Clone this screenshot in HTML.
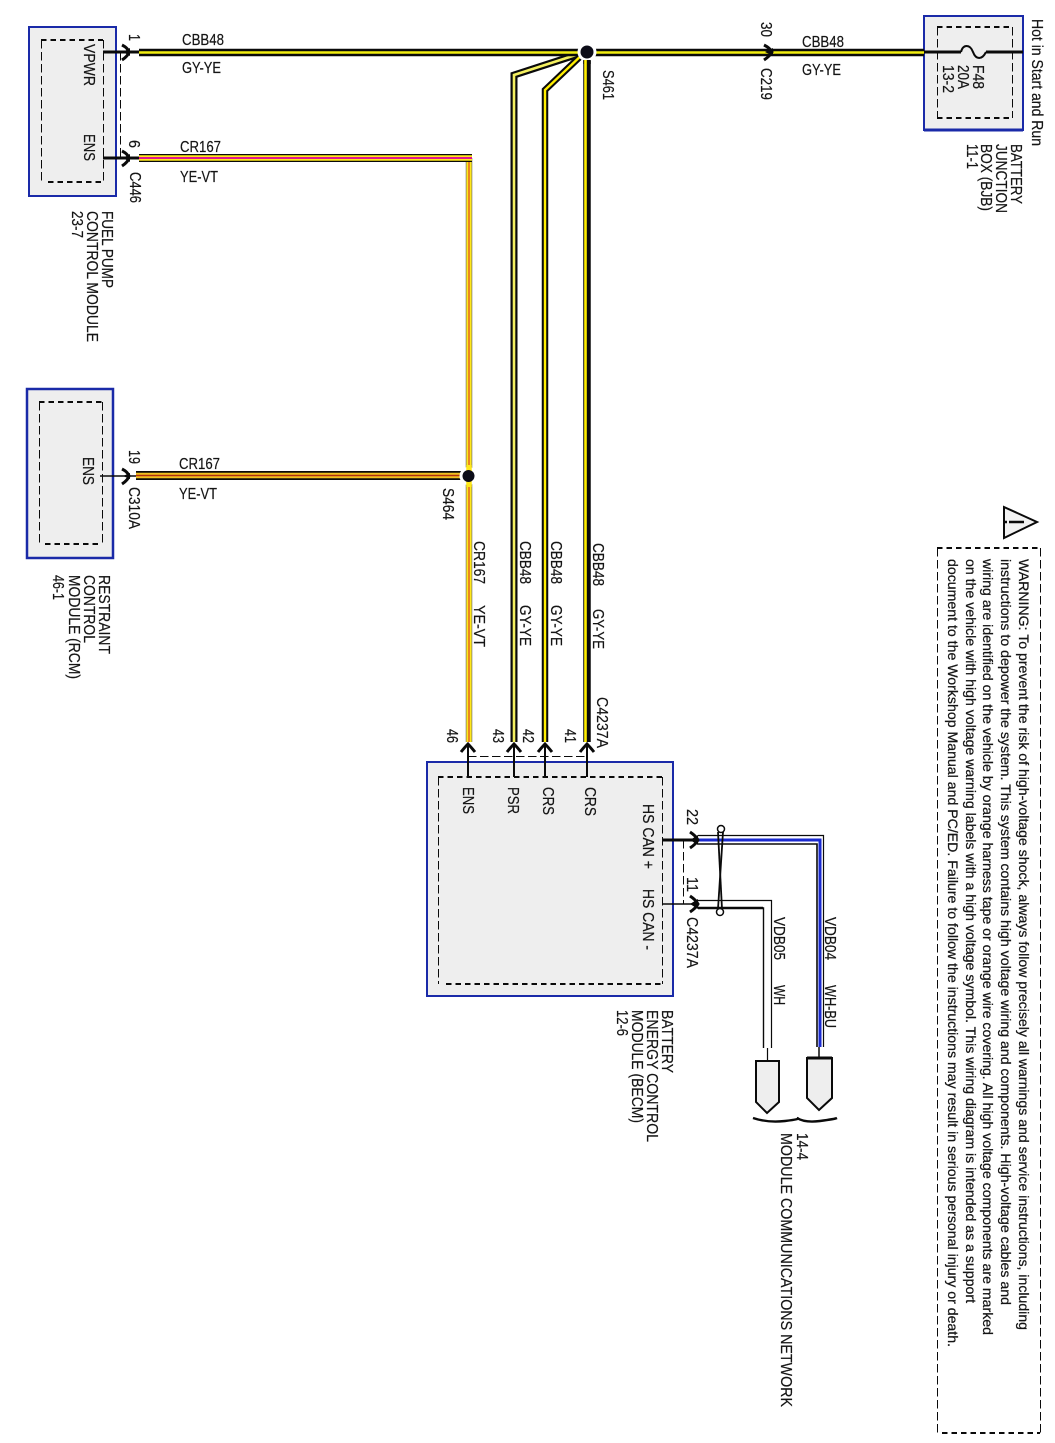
<!DOCTYPE html>
<html><head><meta charset="utf-8"><style>
html,body{margin:0;padding:0;background:#fff}
svg{display:block}
text{font-family:"Liberation Sans",sans-serif;font-size:15.5px;fill:#151515;stroke:#151515;stroke-width:.2}
.w{font-size:14px;stroke-width:.25}
.box{fill:#eeeeee;stroke:#1a2aa8;stroke-width:2}
.dt{stroke:#0a0a0a;stroke-width:2;stroke-dasharray:5.5 4;fill:none}
.ds{stroke:#0a0a0a;stroke-width:1;stroke-dasharray:8.5 3.5;fill:none}
.ch{fill:none;stroke:#0a0a0a;stroke-width:3}
.ar{fill:#0a0a0a}
polyline,line{fill:none}
</style></head><body>
<svg width="1055" height="1443" viewBox="0 0 1055 1443" xmlns="http://www.w3.org/2000/svg">
<rect width="1055" height="1443" fill="#fff"/>
<!-- boxes -->
<rect class="box" x="29" y="27" width="87" height="169"/>
<path class="dt" d="M41 40H103M48 182H103"/><path class="ds" d="M41.5 40V182M103.5 40V182"/>
<rect class="box" x="27" y="389" width="86" height="169" style="stroke-width:2.5"/>
<path class="dt" d="M39 402H102M45 544H102"/><path class="ds" d="M39.5 402V544M102.5 402V544"/>
<rect class="box" x="924" y="16" width="99" height="114"/>
<line x1="924" y1="130" x2="1023" y2="130" stroke="#1a2aa8" stroke-width="3"/>
<path class="dt" d="M937 27H1012M937 118H1012"/><path class="ds" d="M937.5 27V118M1012.5 27V118"/>
<rect class="box" x="427" y="762" width="246" height="234"/>
<path class="dt" d="M438 777H662M446 984H662"/><path class="ds" d="M438.5 777V984M662.5 777V984"/>
<!-- dashed connector shells -->
<path class="ds" d="M120.5 52V158M468 756.5H587M683.5 840V904"/>
<!-- pins -->
<g stroke="#0a0a0a" fill="none">
<path d="M103 52H139M103 158H139M924 52H961M986 52H1023M662 840H698" stroke-width="3"/>
<path d="M961 52C963 44 970 44 973 52C976 60 982 60 986 52" stroke-width="2"/>
<path d="M100 476H136M662 904H698" stroke-width="1.5"/>
<path d="M468 745V777M514 745V777M545 745V777M587 745V777" stroke-width="2"/>
</g>
<!-- main CBB48 -->
<polyline points="585,52 514,75 514,742" stroke="#0a0a0a" stroke-width="7"/>
<polyline points="585,52 514,75 514,742" stroke="#f4f060" stroke-width="2.6"/>
<polyline points="585,52 545,90 545,742" stroke="#0a0a0a" stroke-width="6.5"/>
<polyline points="585,52 545,90 545,742" stroke="#ffee00" stroke-width="2.4"/>
<line x1="587" y1="52" x2="587" y2="742" stroke="#0a0a0a" stroke-width="7.5"/>
<line x1="585.5" y1="52" x2="585.5" y2="742" stroke="#ffee00" stroke-width="2.6"/>
<line x1="139" y1="52.5" x2="924" y2="52.5" stroke="#0a0a0a" stroke-width="7.5"/>
<line x1="139" y1="52.5" x2="924" y2="52.5" stroke="#f2ee10" stroke-width="2.5"/>
<circle cx="587" cy="52" r="9.5" fill="#fff"/>
<line x1="587" y1="60" x2="587" y2="64" stroke="#0a0a0a" stroke-width="7.5"/>
<line x1="585.5" y1="60" x2="585.5" y2="64" stroke="#ffee00" stroke-width="2.6"/>
<circle cx="587" cy="52" r="6.5" fill="#0c0c18"/>
<!-- CR167 -->
<line x1="469" y1="158" x2="469" y2="742" stroke="#666" stroke-width="6.5"/>
<line x1="469" y1="158" x2="469" y2="742" stroke="#ffe81a" stroke-width="5.2"/>
<line x1="469" y1="158" x2="469" y2="742" stroke="#e87a20" stroke-width="1.8"/>
<line x1="139" y1="158" x2="472" y2="158" stroke="#0a0a0a" stroke-width="8"/>
<line x1="139" y1="158" x2="472" y2="158" stroke="#ffe81a" stroke-width="5.6"/>
<line x1="139" y1="158" x2="472" y2="158" stroke="#e0148c" stroke-width="2"/>
<line x1="136" y1="475.5" x2="462" y2="475.5" stroke="#0a0a0a" stroke-width="9"/>
<line x1="136" y1="475.5" x2="462" y2="475.5" stroke="#f0c020" stroke-width="5.6"/>
<line x1="136" y1="475.5" x2="462" y2="475.5" stroke="#b03010" stroke-width="1.6"/>
<circle cx="468.5" cy="476" r="9" fill="#fff"/>
<line x1="469" y1="465" x2="469" y2="487" stroke="#ffe81a" stroke-width="5.5"/>
<circle cx="468.5" cy="476" r="6" fill="#0c0c18"/>
<!-- VDB wires -->
<polyline points="698,835.5 823.5,835.5 823.5,1047" stroke="#0a0a0a" stroke-width="1.2"/>
<polyline points="698,844 817,844 817,1047" stroke="#0a0a0a" stroke-width="1.6"/>
<polyline points="698,840 820,840 820,1047" stroke="#1a2ad0" stroke-width="3"/>
<line x1="819" y1="1047" x2="819" y2="1058" stroke="#0a0a0a" stroke-width="1.5"/>
<polyline points="698,900.5 771.5,900.5 771.5,1048" stroke="#0a0a0a" stroke-width="1.2"/>
<polyline points="698,908 763.5,908 763.5,1048" stroke="#0a0a0a" stroke-width="1.4"/>
<line x1="698" y1="908" x2="763" y2="908" stroke="#0a0a0a" stroke-width="2.5"/>
<line x1="767.5" y1="1048" x2="767.5" y2="1061" stroke="#0a0a0a" stroke-width="1.2"/>
<!-- twist -->
<g fill="none" stroke="#0a0a0a">
<path d="M718 832L722 909" stroke-width="1.8"/>
<path d="M723 832L718 909" stroke-width="1.8"/>
<circle cx="721" cy="829" r="3.5" fill="#fff" stroke-width="1.5"/>
<circle cx="720" cy="912" r="3.5" fill="#fff" stroke-width="1.5"/>
</g>
<!-- chevrons -->
<path class="ch" d="M122 45Q128 48 129 52Q128 56 122 60"/>
<path class="ch" d="M122 151Q128 154 129 158Q128 162 122 166"/>
<path class="ch" d="M122 469Q128 472 129 476Q128 480 122 484"/>
<path class="ch" d="M764 45Q770 48 772 52Q770 56 764 60"/>
<path class="ch" d="M461 752Q465 747 468 744Q471 747 475 752"/>
<path class="ch" d="M507 752Q511 747 514 744Q517 747 521 752"/>
<path class="ch" d="M538 752Q542 747 545 744Q548 747 552 752"/>
<path class="ch" d="M580 752Q584 747 587 744Q590 747 594 752"/>
<path class="ch" d="M690 832Q696 836 698 840Q696 844 690 848"/>
<path class="ch" d="M690 896Q696 900 698 904Q696 908 690 912"/>
<path class="ar" d="M123 52L130 48V56Z M123 158L130 154V162Z M123 476L130 473V479Z M765 52L773 48V56Z M690 840L698 835V845Z M690 904L698 899V909Z"/>
<!-- shields -->
<path d="M807 1058H832V1098L819 1110L807 1098Z" fill="#eee" stroke="#0a0a0a" stroke-width="2"/>
<line x1="807" y1="1058" x2="832" y2="1058" stroke="#0a0a0a" stroke-width="3"/>
<path d="M756 1061H779V1102L767 1113L756 1102Z" fill="#eee" stroke="#0a0a0a" stroke-width="2"/>
<path d="M753 1118Q768 1123 785 1121T797 1118Q805 1123 820 1121T837 1118" fill="none" stroke="#0a0a0a" stroke-width="2.4"/>
<!-- warning -->
<path class="dt" d="M937 548H1040M942 1433H1040"/><path class="ds" d="M937.5 548V1433M1040.5 548V1433"/>
<path d="M1004 507V538L1037 522Z" fill="#f2f2f2" stroke="#0a0a0a" stroke-width="2"/>
<path d="M1009 522H1024M1005 522H1007" stroke="#0a0a0a" stroke-width="2.5"/>
<!-- horizontal labels -->
<text x="182" y="45" textLength="42" lengthAdjust="spacingAndGlyphs">CBB48</text>
<text x="182" y="73" textLength="39" lengthAdjust="spacingAndGlyphs">GY-YE</text>
<text x="180" y="152" textLength="41" lengthAdjust="spacingAndGlyphs">CR167</text>
<text x="180" y="182" textLength="38" lengthAdjust="spacingAndGlyphs">YE-VT</text>
<text x="179" y="469" textLength="41" lengthAdjust="spacingAndGlyphs">CR167</text>
<text x="179" y="499" textLength="38" lengthAdjust="spacingAndGlyphs">YE-VT</text>
<text x="802" y="47" textLength="42" lengthAdjust="spacingAndGlyphs">CBB48</text>
<text x="802" y="75" textLength="39" lengthAdjust="spacingAndGlyphs">GY-YE</text>
<!-- rotated labels -->
<g>
<text transform="translate(84,44) rotate(90)" textLength="42" lengthAdjust="spacingAndGlyphs">VPWR</text>
<text transform="translate(84,134) rotate(90)" textLength="27" lengthAdjust="spacingAndGlyphs">ENS</text>
<text transform="translate(129,34) rotate(90)" textLength="7" lengthAdjust="spacingAndGlyphs">1</text>
<text transform="translate(129,140) rotate(90)" textLength="8" lengthAdjust="spacingAndGlyphs">6</text>
<text transform="translate(130,172) rotate(90)" textLength="31" lengthAdjust="spacingAndGlyphs">C446</text>
<text transform="translate(102,211) rotate(90)" textLength="77" lengthAdjust="spacingAndGlyphs">FUEL PUMP</text>
<text transform="translate(87,211) rotate(90)" textLength="131" lengthAdjust="spacingAndGlyphs">CONTROL MODULE</text>
<text transform="translate(72,211) rotate(90)" textLength="27" lengthAdjust="spacingAndGlyphs">23-7</text>
<text transform="translate(83,457) rotate(90)" textLength="28" lengthAdjust="spacingAndGlyphs">ENS</text>
<text transform="translate(129,450) rotate(90)" textLength="14" lengthAdjust="spacingAndGlyphs">19</text>
<text transform="translate(129,487) rotate(90)" textLength="42" lengthAdjust="spacingAndGlyphs">C310A</text>
<text transform="translate(99,575) rotate(90)" textLength="79" lengthAdjust="spacingAndGlyphs">RESTRAINT</text>
<text transform="translate(84,575) rotate(90)" textLength="68" lengthAdjust="spacingAndGlyphs">CONTROL</text>
<text transform="translate(69,575) rotate(90)" textLength="104" lengthAdjust="spacingAndGlyphs">MODULE (RCM)</text>
<text transform="translate(53,575) rotate(90)" textLength="25" lengthAdjust="spacingAndGlyphs">46-1</text>
<text transform="translate(443,488) rotate(90)" textLength="32" lengthAdjust="spacingAndGlyphs">S464</text>
<text transform="translate(603,70) rotate(90)" textLength="30" lengthAdjust="spacingAndGlyphs">S461</text>
<text transform="translate(474,541) rotate(90)" textLength="43" lengthAdjust="spacingAndGlyphs">CR167</text>
<text transform="translate(474,605) rotate(90)" textLength="42" lengthAdjust="spacingAndGlyphs">YE-VT</text>
<text transform="translate(520,541) rotate(90)" textLength="43" lengthAdjust="spacingAndGlyphs">CBB48</text>
<text transform="translate(520,605) rotate(90)" textLength="41" lengthAdjust="spacingAndGlyphs">GY-YE</text>
<text transform="translate(551,541) rotate(90)" textLength="43" lengthAdjust="spacingAndGlyphs">CBB48</text>
<text transform="translate(551,605) rotate(90)" textLength="41" lengthAdjust="spacingAndGlyphs">GY-YE</text>
<text transform="translate(593,543) rotate(90)" textLength="43" lengthAdjust="spacingAndGlyphs">CBB48</text>
<text transform="translate(593,609) rotate(90)" textLength="40" lengthAdjust="spacingAndGlyphs">GY-YE</text>
<text transform="translate(597,697) rotate(90)" textLength="51" lengthAdjust="spacingAndGlyphs">C4237A</text>
<text transform="translate(447,729) rotate(90)" textLength="14" lengthAdjust="spacingAndGlyphs">46</text>
<text transform="translate(493,729) rotate(90)" textLength="14" lengthAdjust="spacingAndGlyphs">43</text>
<text transform="translate(523,729) rotate(90)" textLength="14" lengthAdjust="spacingAndGlyphs">42</text>
<text transform="translate(565,729) rotate(90)" textLength="14" lengthAdjust="spacingAndGlyphs">41</text>
<text transform="translate(463,787) rotate(90)" textLength="27" lengthAdjust="spacingAndGlyphs">ENS</text>
<text transform="translate(508,787) rotate(90)" textLength="27" lengthAdjust="spacingAndGlyphs">PSR</text>
<text transform="translate(543,787) rotate(90)" textLength="28" lengthAdjust="spacingAndGlyphs">CRS</text>
<text transform="translate(585,787) rotate(90)" textLength="29" lengthAdjust="spacingAndGlyphs">CRS</text>
<text transform="translate(643,804) rotate(90)" textLength="65" lengthAdjust="spacingAndGlyphs">HS CAN +</text>
<text transform="translate(643,889) rotate(90)" textLength="61" lengthAdjust="spacingAndGlyphs">HS CAN -</text>
<text transform="translate(687,809) rotate(90)" textLength="16" lengthAdjust="spacingAndGlyphs">22</text>
<text transform="translate(687,877) rotate(90)" textLength="15" lengthAdjust="spacingAndGlyphs">11</text>
<text transform="translate(687,917) rotate(90)" textLength="51" lengthAdjust="spacingAndGlyphs">C4237A</text>
<text transform="translate(825,917) rotate(90)" textLength="43" lengthAdjust="spacingAndGlyphs">VDB04</text>
<text transform="translate(825,985) rotate(90)" textLength="43" lengthAdjust="spacingAndGlyphs">WH-BU</text>
<text transform="translate(774,917) rotate(90)" textLength="43" lengthAdjust="spacingAndGlyphs">VDB05</text>
<text transform="translate(774,985) rotate(90)" textLength="20" lengthAdjust="spacingAndGlyphs">WH</text>
<text transform="translate(662,1010) rotate(90)" textLength="63" lengthAdjust="spacingAndGlyphs">BATTERY</text>
<text transform="translate(647,1010) rotate(90)" textLength="132" lengthAdjust="spacingAndGlyphs">ENERGY CONTROL</text>
<text transform="translate(632,1010) rotate(90)" textLength="113" lengthAdjust="spacingAndGlyphs">MODULE (BECM)</text>
<text transform="translate(617,1010) rotate(90)" textLength="26" lengthAdjust="spacingAndGlyphs">12-6</text>
<text transform="translate(797,1133) rotate(90)" textLength="27" lengthAdjust="spacingAndGlyphs">14-4</text>
<text transform="translate(781,1133) rotate(90)" textLength="274" lengthAdjust="spacingAndGlyphs">MODULE COMMUNICATIONS NETWORK</text>
<text transform="translate(761,22) rotate(90)" textLength="15" lengthAdjust="spacingAndGlyphs">30</text>
<text transform="translate(761,68) rotate(90)" textLength="32" lengthAdjust="spacingAndGlyphs">C219</text>
<text transform="translate(1032,19) rotate(90)" textLength="127" lengthAdjust="spacingAndGlyphs">Hot in Start and Run</text>
<text transform="translate(1011,144) rotate(90)" textLength="60" lengthAdjust="spacingAndGlyphs">BATTERY</text>
<text transform="translate(996,144) rotate(90)" textLength="69" lengthAdjust="spacingAndGlyphs">JUNCTION</text>
<text transform="translate(981,144) rotate(90)" textLength="67" lengthAdjust="spacingAndGlyphs">BOX (BJB)</text>
<text transform="translate(967,144) rotate(90)" textLength="25" lengthAdjust="spacingAndGlyphs">11-1</text>
<text transform="translate(973,65) rotate(90)" textLength="24" lengthAdjust="spacingAndGlyphs">F48</text>
<text transform="translate(958,65) rotate(90)" textLength="24" lengthAdjust="spacingAndGlyphs">20A</text>
<text transform="translate(943,65) rotate(90)" textLength="28" lengthAdjust="spacingAndGlyphs">13-2</text>
<text class="w" transform="translate(1019,559) rotate(90)" textLength="771" lengthAdjust="spacingAndGlyphs">WARNING: To prevent the risk of high-voltage shock, always follow precisely all warnings and service instructions, including</text>
<text class="w" transform="translate(1001,559) rotate(90)" textLength="746" lengthAdjust="spacingAndGlyphs">instructions to depower the system. This system contains high voltage wiring and components. High-voltage cables and</text>
<text class="w" transform="translate(983,559) rotate(90)" textLength="776" lengthAdjust="spacingAndGlyphs">wiring are identified on the vehicle by orange harness tape or orange wire covering. All high voltage components are marked</text>
<text class="w" transform="translate(966,559) rotate(90)" textLength="744" lengthAdjust="spacingAndGlyphs">on the vehicle with high voltage warning labels with a high voltage symbol. This wiring diagram is intended as a support</text>
<text class="w" transform="translate(948,559) rotate(90)" textLength="788" lengthAdjust="spacingAndGlyphs">document to the Workshop Manual and PC/ED. Failure to follow the instructions may result in serious personal injury or death.</text>
</g>
</svg>
</body></html>
